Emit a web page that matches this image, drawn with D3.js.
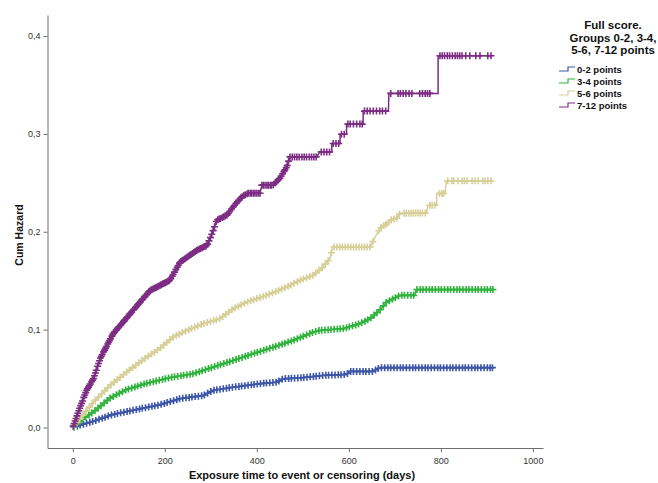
<!DOCTYPE html>
<html><head><meta charset="utf-8">
<script src="https://cdn.jsdelivr.net/npm/d3@7"></script>
<style>html,body{margin:0;padding:0;background:#fff;} svg{display:block;font-family:Arial,"Liberation Sans",sans-serif;}</style>
</head><body><svg id="c" width="658" height="483"></svg>
<script>
// ---------- data ----------
const groups = ["0-2 points", "3-4 points", "5-6 points", "7-12 points"];
const colors = ["#3d56a8", "#2fb33d", "#d6cf97", "#7d2c84"];
const legendTitle = ["Full score.", "Groups 0-2, 3-4,", "5-6, 7-12 points"];
const xTicks = [0, 200, 400, 600, 800, 1000];
const yTicks = [0, 0.1, 0.2, 0.3, 0.4];
const xLabel = "Exposure time to event or censoring (days)";
const yLabel = "Cum Hazard";

// cumulative hazard curves: [day, H]
const curve02 = [[0,0],[20,0.003],[45,0.0063],[85,0.013],[125,0.017],[190,0.0233],[233,0.0294],[284,0.0327],[305,0.0379],[349,0.0412],[407,0.0447],[443,0.0463],[457,0.0498],[494,0.0506],[544,0.0532],[595,0.0542],[602,0.0573],[653,0.0573],[667,0.0611],[914,0.0611]];
const curve34 = [[0,0],[20,0.008],[45,0.016],[81,0.030],[117,0.0388],[160,0.045],[212,0.051],[262,0.0549],[305,0.0617],[349,0.0685],[392,0.0754],[436,0.0821],[479,0.089],[523,0.0975],[537,0.0992],[588,0.101],[624,0.1061],[646,0.1112],[667,0.1197],[682,0.1282],[704,0.1333],[711,0.135],[743,0.135],[747,0.1409],[914,0.1409]];
const curve56 = [[0,0],[9,0.005],[45,0.026],[81,0.043],[117,0.0566],[161,0.072],[190,0.081],[218,0.0924],[248,0.0992],[284,0.1061],[320,0.1112],[349,0.1214],[378,0.1282],[421,0.135],[465,0.1435],[494,0.1504],[522,0.1555],[544,0.164],[559,0.1726],[565,0.1845],[646,0.1845],[663,0.1998],[671,0.2049],[685,0.2087],[689,0.2118],[704,0.2138],[711,0.2189],[769,0.2192],[772,0.2271],[791,0.2271],[791,0.2391],[809,0.2391],[812,0.252],[910,0.252]];
const curve712 = [[0,0],[16,0.021],[30,0.038],[45,0.05],[60,0.071],[88,0.096],[118,0.1125],[146,0.128],[168,0.14],[190,0.1453],[211,0.1504],[233,0.1688],[248,0.1739],[270,0.1811],[292,0.1862],[303,0.1985],[313,0.2118],[335,0.2169],[348,0.2251],[367,0.2356],[381,0.2394],[407,0.2394],[411,0.2476],[435,0.2476],[450,0.2547],[465,0.2663],[472,0.2765],[530,0.2765],[537,0.2816],[563,0.2816],[563,0.2902],[581,0.2902],[581,0.2997],[595,0.2997],[595,0.31],[631,0.31],[631,0.3233],[686,0.3233],[687,0.3414],[794,0.3414],[794,0.3798],[910,0.3798]];

// censoring times (days)
const censor02 = [3,10,16,23,30,37,43,50,57,64,70,77,84,91,97,104,111,118,124,131,138,145,151,158,165,172,178,185,192,199,205,212,219,226,232,239,246,253,259,266,273,280,286,293,300,307,313,320,327,334,340,347,354,361,367,374,381,388,394,401,408,415,421,428,435,442,448,455,462,469,475,482,489,496,502,509,516,523,529,536,543,550,556,563,570,577,583,590,597,604,610,617,624,631,637,644,651,658,664,671,678,685,691,698,705,712,718,725,732,739,745,752,759,766,772,779,786,793,799,806,813,820,826,833,840,847,853,860,867,874,880,887,894,901,907,912];
const censor34 = [2,8,15,21,28,35,41,48,55,61,68,75,81,88,95,101,108,115,121,128,135,141,148,155,161,168,175,181,188,195,201,208,215,221,228,235,241,248,255,261,268,275,281,288,295,301,308,315,321,328,335,341,348,355,361,368,375,381,388,395,401,408,415,421,428,435,441,448,455,461,468,475,481,488,495,501,508,515,521,528,535,541,548,555,561,568,575,581,588,595,601,608,615,621,628,635,641,648,655,661,668,675,681,688,695,701,708,715,721,728,735,741,748,755,761,768,775,781,788,795,801,808,815,821,828,835,841,848,855,861,868,875,881,888,895,901,908,913];
const censor56 = [2,9,15,22,29,36,42,49,56,63,69,76,83,90,96,103,110,117,123,130,137,144,150,157,164,171,177,184,191,198,204,211,218,225,231,238,245,252,258,265,272,279,285,292,299,306,312,319,326,333,339,346,353,360,366,373,380,387,393,400,407,414,420,427,434,441,447,454,461,468,474,481,488,495,501,508,515,522,528,535,542,549,555,562,568,574,580,586,592,598,604,610,616,622,628,634,640,646,652,665,670,676,681,686,692,698,704,710,720,725,730,735,740,745,750,755,760,766,776,781,787,797,802,806,815,824,828,837,846,851,857,868,874,881,891,896,902,909];
const censor712 = [1,3,5,7,9,11,13,15,17,19,21,24,26,28,30,32,34,36,38,41,43,45,47,49,51,54,56,58,60,62,64,67,69,71,73,76,78,80,82,85,87,89,91,94,96,98,100,103,105,108,110,112,114,117,119,122,124,126,128,131,133,136,138,141,143,145,147,150,152,155,157,160,162,165,167,170,172,175,177,180,182,185,187,190,192,195,197,200,202,205,208,210,213,216,218,221,224,227,229,232,235,238,240,243,246,249,252,255,257,260,263,266,269,272,275,278,281,284,287,290,293,296,299,302,305,308,312,315,318,321,325,328,331,335,338,341,345,348,351,355,358,361,365,368,372,375,379,382,386,389,393,396,400,404,407,411,414,418,422,425,429,432,436,440,443,447,450,453,456,459,461,464,466,469,472,477,482,487,492,498,503,508,514,519,524,529,540,546,552,558,566,572,578,584,590,598,603,610,617,624,629,634,640,646,653,660,667,673,680,691,707,712,718,724,731,737,754,760,766,771,776,798,803,808,814,819,825,831,836,841,846,854,863,876,885,902,909];

const curves = [curve02, curve34, curve56, curve712];
const censors = [censor02, censor34, censor56, censor712];

// ---------- chart ----------
const svg = d3.select("#c");
svg.append("rect").attr("width", 658).attr("height", 483).attr("fill", "#fff");

const x = d3.scaleLinear().domain([-55, 1022]).range([47.5, 543]);
const y = d3.scaleLinear().domain([-0.021, 0.4215]).range([448, 15]);
const loc = d3.formatLocale({decimal: ",", thousands: ".", grouping: [3], currency: ["", ""]});
const fy = loc.format(".1f");

const axisColor = "#6e6e6e";
const gx = svg.append("g").attr("transform", "translate(0,448)")
  .call(d3.axisBottom(x).tickValues(xTicks).tickSize(4).tickSizeOuter(0).tickFormat(d3.format("d")));
const gy = svg.append("g").attr("transform", "translate(47.5,0)")
  .call(d3.axisLeft(y).tickValues(yTicks).tickSize(4).tickSizeOuter(0).tickFormat(fy));
[gx, gy].forEach(g => {
  g.select(".domain").attr("stroke", axisColor);
  g.selectAll(".tick line").attr("stroke", axisColor);
  g.selectAll(".tick text").attr("fill", "#333").attr("font-size", 9).attr("font-family", "Arial, 'Liberation Sans', sans-serif");
});
gx.selectAll(".tick text").attr("dy", "0.95em");

svg.append("text").attr("x", 302).attr("y", 479).attr("text-anchor", "middle")
  .attr("font-size", 11).attr("font-weight", "bold").attr("fill", "#111").text(xLabel);
svg.append("text").attr("transform", "translate(23,235) rotate(-90)").attr("text-anchor", "middle")
  .attr("font-size", 10.5).attr("font-weight", "bold").attr("fill", "#111").text(yLabel);

function hAt(pts, t) {
  let v = pts[0][1];
  for (let i = 0; i < pts.length - 1; i++) {
    const a = pts[i], b = pts[i + 1];
    if (t >= a[0] && t <= b[0]) {
      if (b[0] === a[0]) { v = b[1]; }
      else { v = a[1] + (b[1] - a[1]) * (t - a[0]) / (b[0] - a[0]); }
    }
  }
  return v;
}

const line = d3.line().x(d => x(d[0])).y(d => y(d[1]));
const plus = "M-3.5,0H3.5M0,-3.5V3.5";
curves.forEach((c, i) => {
  const g = svg.append("g");
  g.append("path").attr("d", line(c)).attr("fill", "none").attr("stroke", colors[i]).attr("stroke-width", 1.5);
  g.selectAll("path.m").data(censors[i]).join("path").attr("class", "m")
    .attr("transform", t => `translate(${x(t)},${y(hAt(c, t))})`)
    .attr("d", plus).attr("stroke", colors[i]).attr("stroke-width", 1.6).attr("fill", "none");
});

// legend
const lg = svg.append("g");
legendTitle.forEach((t, i) => {
  lg.append("text").attr("x", 613).attr("y", 29 + i * 12.5).attr("text-anchor", "middle")
    .attr("font-size", 11.5).attr("font-weight", "bold").attr("fill", "#111").text(t);
});
groups.forEach((gname, i) => {
  const cy = 69 + i * 12;
  lg.append("path").attr("d", `M559,${cy + 2}H568V${cy - 2}H575`).attr("fill", "none")
    .attr("stroke", colors[i]).attr("stroke-width", 1.2);
  lg.append("text").attr("x", 577).attr("y", cy + 3.5).attr("font-size", 9.5).attr("font-weight", "bold")
    .attr("fill", "#111").text(gname);
});
</script></body></html>
